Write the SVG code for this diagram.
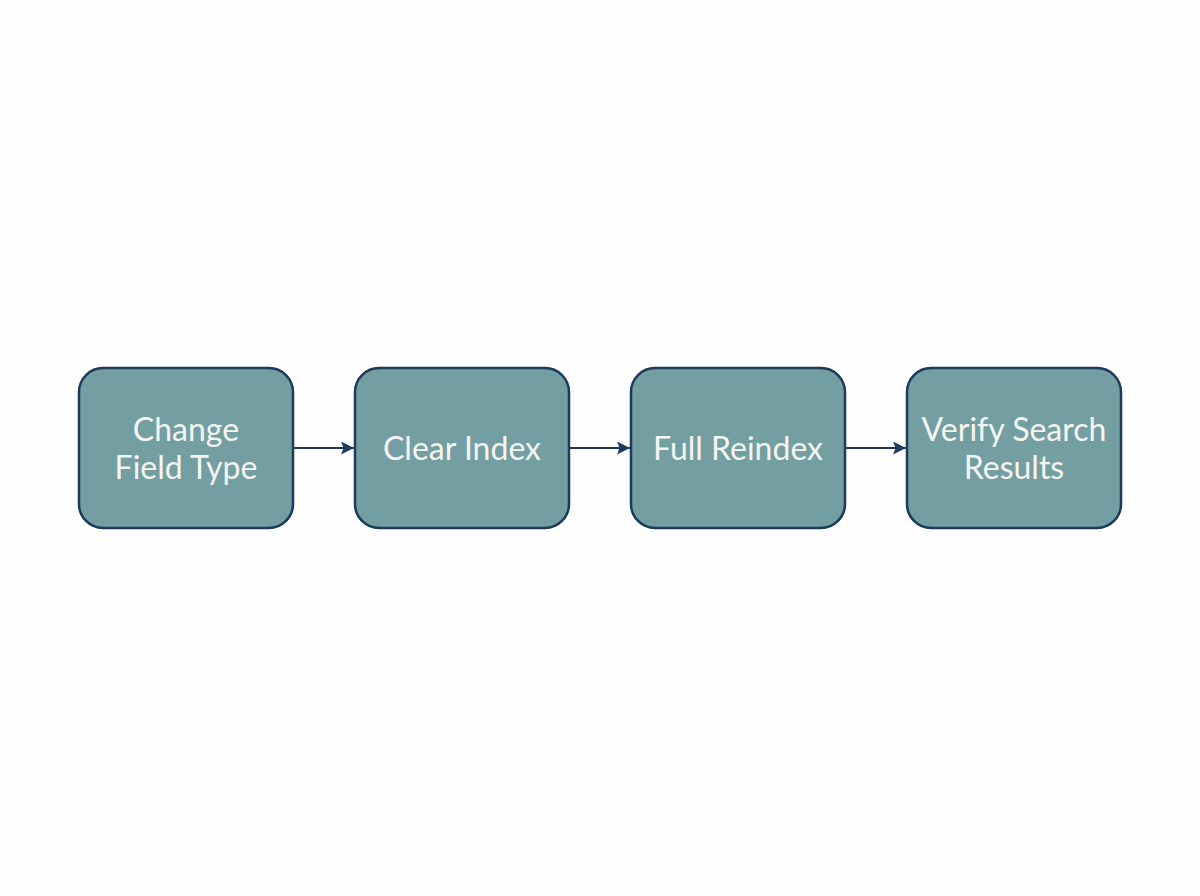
<svg xmlns="http://www.w3.org/2000/svg" width="1200" height="896" viewBox="0 0 1200 896">
<style>
.box{fill:#739fa3;stroke:#1d3a5c;stroke-width:2.5}
.lbl{font-family:Lato,"Noto Sans",sans-serif;font-size:32px;fill:#f5f5f0;text-anchor:middle}
.edge{stroke:#1d3a5c;stroke-width:2;fill:none;marker-end:url(#arr)}
</style>
<defs>
<marker id="arr" viewBox="0 0 10 10" refX="10" refY="5" markerWidth="13" markerHeight="13" markerUnits="userSpaceOnUse" orient="auto">
<path d="M0,0 L10,5 L0,10 L2,5 z" fill="#1d3a5c"/>
</marker>
</defs>
<rect width="1200" height="896" fill="#fefefe"/>
<g id="edges">
<line class="edge" x1="293" y1="448" x2="354" y2="448"/>
<line class="edge" x1="569" y1="448" x2="630" y2="448"/>
<line class="edge" x1="845" y1="448" x2="906" y2="448"/>
</g>
<g id="n1"><rect class="box" x="79" y="368" width="214" height="160" rx="24"/><text class="lbl" x="186" y="441">Change</text><text class="lbl" x="186" y="479">Field Type</text></g>
<g id="n2"><rect class="box" x="355" y="368" width="214" height="160" rx="24"/><text class="lbl" x="462" y="460">Clear Index</text></g>
<g id="n3"><rect class="box" x="631" y="368" width="214" height="160" rx="24"/><text class="lbl" x="738" y="460">Full Reindex</text></g>
<g id="n4"><rect class="box" x="907" y="368" width="214" height="160" rx="24"/><text class="lbl" x="1014" y="441">Verify Search</text><text class="lbl" x="1014" y="479">Results</text></g>
</svg>
